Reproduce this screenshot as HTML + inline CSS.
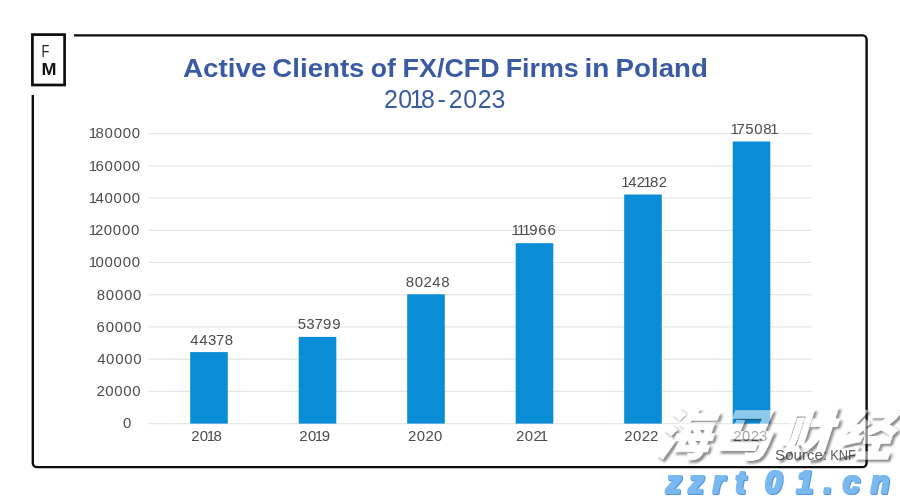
<!DOCTYPE html>
<html lang="en">
<head>
<meta charset="utf-8">
<title>Active Clients of FX/CFD Firms in Poland 2018-2023</title>
<style>
html,body{margin:0;padding:0;background:#fff;}
body{width:900px;height:499px;overflow:hidden;font-family:"Liberation Sans","Noto Sans CJK SC",sans-serif;}
svg{display:block;}
text{font-family:"Liberation Sans","Noto Sans CJK SC",sans-serif;}
.ax{fill:#4d4d4d;}
.sub{fill:#3a5ba3;}
.cjk2{font-family:"Liberation Sans","Noto Sans CJK SC",sans-serif;font-weight:900;}
.cjk{font-family:"Liberation Sans","Noto Sans CJK SC",sans-serif;font-weight:900;font-style:italic;}
</style>
</head>
<body>
<svg width="900" height="499" viewBox="0 0 900 499">
<defs>
<filter id="bl" x="-10%" y="-20%" width="120%" height="150%"><feGaussianBlur stdDeviation="0.9"/></filter>
<filter id="fat" x="-5%" y="-20%" width="110%" height="150%" color-interpolation-filters="sRGB">
<feMorphology in="SourceGraphic" operator="dilate" radius="0.5 0.5" result="d"/>
<feOffset in="d" dx="1" dy="1" result="o"/>
<feFlood flood-color="#5597de"/>
<feComposite in2="o" operator="in" result="s"/>
<feMerge><feMergeNode in="s"/><feMergeNode in="d"/></feMerge>
</filter>
</defs>
<rect width="900" height="499" fill="#fff"/>
<path d="M74 35.4 H862.6 a4 4 0 0 1 4 4 V463.1 a4 4 0 0 1 -4 4 H36.8 a4 4 0 0 1 -4 -4 V95" fill="none" stroke="#0d0d0d" stroke-width="2.4"/>
<rect x="32.4" y="34.6" width="32.2" height="50.4" fill="#fff" stroke="#0d0d0d" stroke-width="2.7"/>
<text x="41.5" y="57.1" font-size="16" fill="#222" textLength="7.8" lengthAdjust="spacingAndGlyphs">F</text>
<text x="41.6" y="74.6" font-size="16.5" font-weight="bold" fill="#111" textLength="15" lengthAdjust="spacingAndGlyphs">M</text>
<text y="77.3" font-size="26.43" font-weight="bold" fill="#3a5ba3"><tspan x="182.94" textLength="83.40" lengthAdjust="spacingAndGlyphs">Active</tspan> <tspan x="272.33" textLength="92.16" lengthAdjust="spacingAndGlyphs">Clients</tspan> <tspan x="370.66" textLength="25.13" lengthAdjust="spacingAndGlyphs">of</tspan> <tspan x="402.64" textLength="96.99" lengthAdjust="spacingAndGlyphs">FX/CFD</tspan> <tspan x="505.69" textLength="72.94" lengthAdjust="spacingAndGlyphs">Firms</tspan> <tspan x="584.51" textLength="24.88" lengthAdjust="spacingAndGlyphs">in</tspan> <tspan x="615.64" textLength="92.20" lengthAdjust="spacingAndGlyphs">Poland</tspan></text>
<text class="sub" x="383.95 398.28 409.71 421.08 437.59 448.85 463.17 477.71 491.51" y="108.3" font-size="24.87" >2018-2023</text>
<line x1="148.2" x2="812" y1="423.6" y2="423.6" stroke="#e6e6e6" stroke-width="1.2"/>
<text class="ax" x="122.97" y="428.4" font-size="14.98" >0</text>
<line x1="148.2" x2="812" y1="391.4" y2="391.4" stroke="#e6e6e6" stroke-width="1.2"/>
<text class="ax" x="96.51 105.14 114.21 123.29 132.36" y="396.2" font-size="14.98" >20000</text>
<line x1="148.2" x2="812" y1="359.2" y2="359.2" stroke="#e6e6e6" stroke-width="1.2"/>
<text class="ax" x="97.13 106.08 115.15 124.22 133.30" y="364.0" font-size="14.98" >40000</text>
<line x1="148.2" x2="812" y1="326.9" y2="326.9" stroke="#e6e6e6" stroke-width="1.2"/>
<text class="ax" x="96.60 105.69 114.76 123.83 132.91" y="331.7" font-size="14.98" >60000</text>
<line x1="148.2" x2="812" y1="294.7" y2="294.7" stroke="#e6e6e6" stroke-width="1.2"/>
<text class="ax" x="96.73 105.82 114.89 123.96 133.04" y="299.5" font-size="14.98" >80000</text>
<line x1="148.2" x2="812" y1="262.5" y2="262.5" stroke="#e6e6e6" stroke-width="1.2"/>
<text class="ax" x="88.63 95.44 104.51 113.59 122.66 131.74" y="267.3" font-size="14.98" >100000</text>
<line x1="148.2" x2="812" y1="230.3" y2="230.3" stroke="#e6e6e6" stroke-width="1.2"/>
<text class="ax" x="88.63 95.12 103.75 112.82 121.90 130.97" y="235.1" font-size="14.98" >120000</text>
<line x1="148.2" x2="812" y1="198.0" y2="198.0" stroke="#e6e6e6" stroke-width="1.2"/>
<text class="ax" x="88.63 95.58 104.53 113.60 122.68 131.75" y="202.8" font-size="14.98" >140000</text>
<line x1="148.2" x2="812" y1="165.8" y2="165.8" stroke="#e6e6e6" stroke-width="1.2"/>
<text class="ax" x="88.63 95.53 104.62 113.69 122.76 131.84" y="170.6" font-size="14.98" >160000</text>
<line x1="148.2" x2="812" y1="133.6" y2="133.6" stroke="#e6e6e6" stroke-width="1.2"/>
<text class="ax" x="88.63 95.48 104.56 113.63 122.71 131.78" y="138.4" font-size="14.98" >180000</text>
<rect x="190.2" y="352.1" width="37.6" height="71.5" fill="#0a8dd6"/>
<text class="ax" x="190.19 199.28 207.91 216.11 224.67" y="345" font-size="14.98" >44378</text>
<text class="ax" x="191.24 199.87 206.75 213.60" y="441.1" font-size="14.98" >2018</text>
<rect x="298.7" y="336.9" width="37.6" height="86.7" fill="#0a8dd6"/>
<text class="ax" x="297.65 306.28 314.47 323.07 332.18" y="329" font-size="14.98" >53799</text>
<text class="ax" x="299.25 307.88 314.76 321.65" y="441.1" font-size="14.98" >2019</text>
<rect x="407.2" y="294.3" width="37.6" height="129.3" fill="#0a8dd6"/>
<text class="ax" x="405.69 414.77 423.53 432.30 441.28" y="287.3" font-size="14.98" >80248</text>
<text class="ax" x="408.10 416.73 425.48 434.11" y="441.1" font-size="14.98" >2020</text>
<rect x="515.7" y="243.2" width="37.6" height="180.4" fill="#0a8dd6"/>
<text class="ax" x="511.54 516.93 522.33 529.21 538.34 547.51" y="235.1" font-size="14.98" >111966</text>
<text class="ax" x="516.05 524.68 533.43 539.87" y="441.1" font-size="14.98" >2021</text>
<rect x="624.2" y="194.5" width="37.6" height="229.1" fill="#0a8dd6"/>
<text class="ax" x="621.17 628.13 636.76 643.20 650.05 658.81" y="186.8" font-size="14.98" >142182</text>
<text class="ax" x="624.34 632.96 641.72 650.03" y="441.1" font-size="14.98" >2022</text>
<rect x="732.7" y="141.5" width="37.6" height="282.1" fill="#0a8dd6"/>
<text class="ax" x="730.38 736.55 745.20 754.15 763.27 770.16" y="133.7" font-size="14.98" >175081</text>
<text class="ax" x="733.37 741.99 750.75 759.06" y="441.1" font-size="14.98" >2023</text>
<g opacity="0.53"><text class="cjk2" transform="translate(656.3,457.3) skewX(-18)" x="0" y="0" fill="#2a2a2a" stroke="#2a2a2a" stroke-width="0.7" stroke-linejoin="round" filter="url(#bl)" font-size="55" letter-spacing="5.5">海马财经</text><text class="cjk2" transform="translate(654,454.8) skewX(-18)" x="0" y="0" fill="#fff" stroke="#fff" stroke-width="0.7" stroke-linejoin="round" font-size="55" letter-spacing="5.5">海马财经</text></g>
<text y="459.7" font-size="14.24" fill="#3c3c3c" fill-opacity="0.82"><tspan x="775.05" textLength="52.21" lengthAdjust="spacingAndGlyphs">Source:</tspan> <tspan x="830.29" textLength="25.58" lengthAdjust="spacingAndGlyphs">KNF</tspan></text>
<text x="673.50 696.10 718.60 740.10 773.40 804.70 827.70 851.00 879.90" y="493.3" text-anchor="middle" font-size="31" font-weight="bold" font-style="italic" fill="#7ab8f0" filter="url(#fat)">zzrt01.cn</text>
</svg>
</body>
</html>
